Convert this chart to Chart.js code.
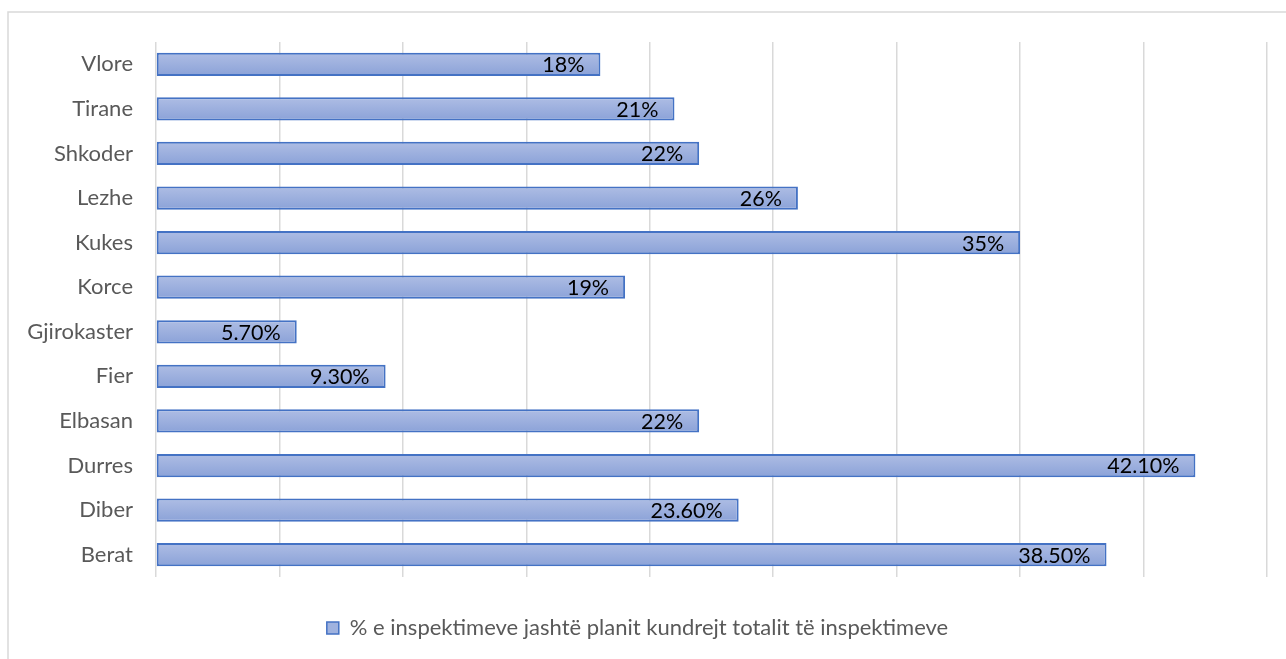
<!DOCTYPE html>
<html>
<head>
<meta charset="utf-8">
<script src="https://cdn.jsdelivr.net/npm/chart.js@4.4.0/dist/chart.umd.min.js"></script>
<style>
  html, body { margin: 0; padding: 0; background: #fff; }
</style>
</head>
<body>
<canvas id="myChart" width="1286" height="659"></canvas>
<script>
// categories, top to bottom as in the picture
var labels = ['Vlore', 'Tirane', 'Shkoder', 'Lezhe', 'Kukes', 'Korce',
  'Gjirokaster', 'Fier', 'Elbasan', 'Durres', 'Diber', 'Berat'];
// values in percent
var values = [18, 21, 22, 26, 35, 19, 5.7, 9.3, 22, 42.1, 23.6, 38.5];
// data labels as printed on the bars
var valueLabels = ['18%', '21%', '22%', '26%', '35%', '19%',
  '5.70%', '9.30%', '22%', '42.10%', '23.60%', '38.50%'];
var seriesName = '% e inspektimeve jashtë planit kundrejt totalit të inspektimeve';

var FONT = 'Lato, "Open Sans", sans-serif';

// bar fill: light top, darker bottom, like the office style
function barFill(c) {
  var el = c.chart.getDatasetMeta(0).data[c.dataIndex];
  if (!el || el.y == null || isNaN(el.y)) return '#98acdd';
  var h = el.height || 22;
  var g = c.chart.ctx.createLinearGradient(0, el.y - h / 2, 0, el.y + h / 2);
  g.addColorStop(0, '#aebde4');
  g.addColorStop(1, '#8ba2d8');
  return g;
}

// thin grey frame round the chart
var framePlugin = {
  id: 'frame',
  beforeDraw: function (chart) {
    var ctx = chart.ctx;
    ctx.save();
    ctx.strokeStyle = '#d9d9d9';
    ctx.lineWidth = 1.5;
    ctx.strokeRect(8, 12, 1400, 800);
    ctx.restore();
  }
};

// value labels inside the end of each bar
var valueLabelPlugin = {
  id: 'valueLabels',
  afterDatasetsDraw: function (chart) {
    var ctx = chart.ctx;
    var meta = chart.getDatasetMeta(0);
    ctx.save();
    ctx.font = '21.5px ' + FONT;
    ctx.fillStyle = '#000';
    ctx.textAlign = 'right';
    ctx.textBaseline = 'middle';
    meta.data.forEach(function (bar, i) {
      ctx.fillText(valueLabels[i], bar.x - 16, bar.y + 1);
    });
    ctx.restore();
  }
};

function BuildChart() {
  var ctx = document.getElementById('myChart').getContext('2d');
  var myChart = new Chart(ctx, {
    type: 'bar',
    data: {
      labels: labels,
      datasets: [{
        label: seriesName,
        data: values,
        backgroundColor: barFill,
        borderColor: '#4472c4',
        borderWidth: 2,
        borderSkipped: false,
        barPercentage: 0.52,
        categoryPercentage: 1
      }]
    },
    options: {
      indexAxis: 'y',
      responsive: false,
      animation: false,
      devicePixelRatio: 1,
      layout: { padding: { left: 8, top: 42, right: 19, bottom: 10 } },
      scales: {
        x: {
          min: 0,
          max: 45,
          ticks: { stepSize: 5, display: false },
          grid: { color: '#d9d9d9', lineWidth: 1.5, drawTicks: false },
          border: { display: false },
          afterFit: function (scale) { scale.height = 30; }
        },
        y: {
          ticks: { color: '#595959', font: { family: FONT, size: 22 }, padding: 23 },
          grid: { display: false, drawTicks: false },
          border: { display: false },
          afterFit: function (scale) { scale.width = 148; }
        }
      },
      plugins: {
        tooltip: { enabled: false },
        legend: {
          position: 'bottom',
          labels: {
            color: '#595959',
            font: { family: FONT, size: 22 },
            boxWidth: 12,
            boxHeight: 12,
            padding: 10,
            generateLabels: function () {
              return [{
                text: seriesName,
                fillStyle: '#9fb2df',
                strokeStyle: '#4472c4',
                lineWidth: 1.5,
                fontColor: '#595959',
                datasetIndex: 0
              }];
            }
          }
        }
      }
    },
    plugins: [framePlugin, valueLabelPlugin]
  });
  // second pass so the gradient knows where each bar sits
  myChart.update();
  return myChart;
}

window.onload = function () {
  BuildChart();
};
</script>
</body>
</html>
